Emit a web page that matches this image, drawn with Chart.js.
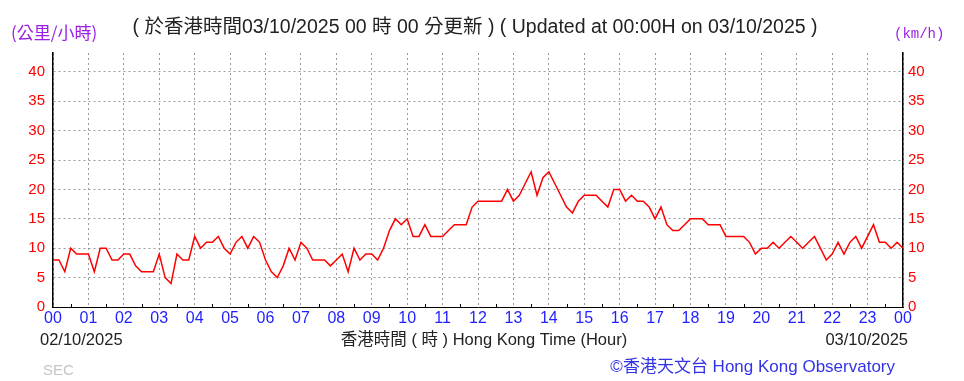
<!DOCTYPE html>
<html>
<head>
<meta charset="utf-8">
<script src="https://cdn.jsdelivr.net/npm/chart.js@4/dist/chart.umd.min.js"></script>
<style>
	body { margin: 0; background: #fff; }
	#wind { display: block; }
</style>
</head>
<body>
<canvas id="wind" width="964" height="381"></canvas>
<script>
// hour tick labels along the bottom
var hourLabels = ["00","01","02","03","04","05","06","07","08","09","10","11",
	"12","13","14","15","16","17","18","19","20","21","22","23","00"];

// y ticks (km/h)
var speedTicks = [0, 5, 10, 15, 20, 25, 30, 35, 40];

// 10-minute wind speed readings, 00:00 on 02/10 to 00:00 on 03/10 (km/h)
var speed = [
	8, 8, 6, 10, 9, 9,        // 00
	9, 6, 10, 10, 8, 8,       // 01
	9, 9, 7, 6, 6, 6,         // 02
	9, 5, 4, 9, 8, 8,         // 03
	12, 10, 11, 11, 12, 10,   // 04
	9, 11, 12, 10, 12, 11,    // 05
	8, 6, 5, 7, 10, 8,        // 06
	11, 10, 8, 8, 8, 7,       // 07
	8, 9, 6, 10, 8, 9,        // 08
	9, 8, 10, 13, 15, 14,     // 09
	15, 12, 12, 14, 12, 12,   // 10
	12, 13, 14, 14, 14, 17,   // 11
	18, 18, 18, 18, 18, 20,   // 12
	18, 19, 21, 23, 19, 22,   // 13
	23, 21, 19, 17, 16, 18,   // 14
	19, 19, 19, 18, 17, 20,   // 15
	20, 18, 19, 18, 18, 17,   // 16
	15, 17, 14, 13, 13, 14,   // 17
	15, 15, 15, 14, 14, 14,   // 18
	12, 12, 12, 12, 11, 9,    // 19
	10, 10, 11, 10, 11, 12,   // 20
	11, 10, 11, 12, 10, 8,    // 21
	9, 11, 9, 11, 12, 10,     // 22
	12, 14, 11, 11, 10, 11,   // 23
	10
];

var points = speed.map(function(v, i) { return { x: i * 10, y: v }; });

var decorations = {
	id: 'decorations',
	afterDraw: function(chart) {
		var ctx = chart.ctx;
		var xs = chart.scales.x;
		var area = chart.chartArea;
		ctx.save();
		// half hour minor ticks
		ctx.strokeStyle = '#000';
		ctx.lineWidth = 1;
		ctx.beginPath();
		for (var m = 30; m < 1440; m += 60) {
			var px = Math.round(xs.getPixelForValue(m)) + 0.5;
			ctx.moveTo(px, area.bottom);
			ctx.lineTo(px, area.bottom - 3);
		}
		ctx.stroke();

		ctx.textBaseline = 'middle';
		ctx.fillStyle = '#9a1ee6';
		ctx.textAlign = 'left';
		ctx.font = '17px "Noto Sans CJK TC", sans-serif';
		ctx.fillText('(公里/小時)', 11, 33);
		ctx.font = '14px "Liberation Mono", monospace';
		ctx.fillText('(km/h)', 894, 34);

		ctx.fillStyle = '#222';
		ctx.textAlign = 'center';
		ctx.font = '19.5px "Liberation Sans", "Noto Sans CJK TC", sans-serif';
		ctx.fillText('( 於香港時間03/10/2025 00 時 00 分更新 ) ( Updated at 00:00H on 03/10/2025 )', 475, 28);

		ctx.font = '16.5px "Liberation Sans", "Noto Sans CJK TC", sans-serif';
		ctx.fillText('香港時間 ( 時 ) Hong Kong Time (Hour)', 484, 340);
		ctx.textAlign = 'left';
		ctx.fillText('02/10/2025', 40, 340);
		ctx.textAlign = 'right';
		ctx.fillText('03/10/2025', 908, 340);

		ctx.textAlign = 'left';
		ctx.fillStyle = '#c4c4c4';
		ctx.font = '15px "Liberation Sans", sans-serif';
		ctx.fillText('SEC', 43, 371);

		ctx.fillStyle = '#3333e6';
		ctx.textAlign = 'right';
		ctx.font = '17px "Liberation Sans", "Noto Sans CJK TC", sans-serif';
		ctx.fillText('©香港天文台 Hong Kong Observatory', 895, 367);
		ctx.restore();
	}
};

var dotted = {
	display: true,
	color: '#9a9a9a',
	lineWidth: 1,
	drawTicks: false
};

var config = {
	type: 'line',
	data: {
		datasets: [{
			data: points,
			borderColor: '#ff0000',
			borderWidth: 1.5,
			pointRadius: 0,
			tension: 0,
			fill: false
		}]
	},
	options: {
		responsive: false,
		animation: false,
		layout: { padding: { top: 53 } },
		plugins: {
			legend: { display: false },
			tooltip: { enabled: false }
		},
		scales: {
			x: {
				type: 'linear',
				min: 0,
				max: 1440,
				afterBuildTicks: function(scale) {
					scale.ticks = hourLabels.map(function(_, i) { return { value: i * 60 }; });
				},
				afterFit: function(scale) { scale.height = 74; },
				grid: dotted,
				border: { display: true, color: '#000', width: 1, dash: [2, 3] },
				ticks: {
					autoSkip: false,
					maxRotation: 0,
					padding: 2,
					color: '#1f1fff',
					font: { family: '"Liberation Sans", sans-serif', size: 16 },
					callback: function(v) { return hourLabels[v / 60]; }
				}
			},
			y: {
				position: 'left',
				min: 0,
				max: 43.2,
				afterBuildTicks: function(scale) {
					scale.ticks = speedTicks.map(function(v) { return { value: v }; });
				},
				afterFit: function(scale) { scale.width = 53; },
				grid: dotted,
				border: { display: true, color: '#000', width: 1.5, dash: [2, 3] },
				ticks: {
					padding: 8,
					color: '#ff0000',
					font: { family: '"Liberation Sans", sans-serif', size: 15 }
				}
			},
			y2: {
				position: 'right',
				min: 0,
				max: 43.2,
				afterBuildTicks: function(scale) {
					scale.ticks = speedTicks.map(function(v) { return { value: v }; });
				},
				afterFit: function(scale) { scale.width = 61; },
				grid: { display: false, drawTicks: false },
				border: { display: true, color: '#000', width: 1.5 },
				ticks: {
					padding: 5,
					color: '#ff0000',
					font: { family: '"Liberation Sans", sans-serif', size: 15 }
				}
			}
		}
	},
	plugins: [decorations]
};

window.onload = function() {
	window.windChart = new Chart(document.getElementById('wind'), config);
};
</script>
</body>
</html>
